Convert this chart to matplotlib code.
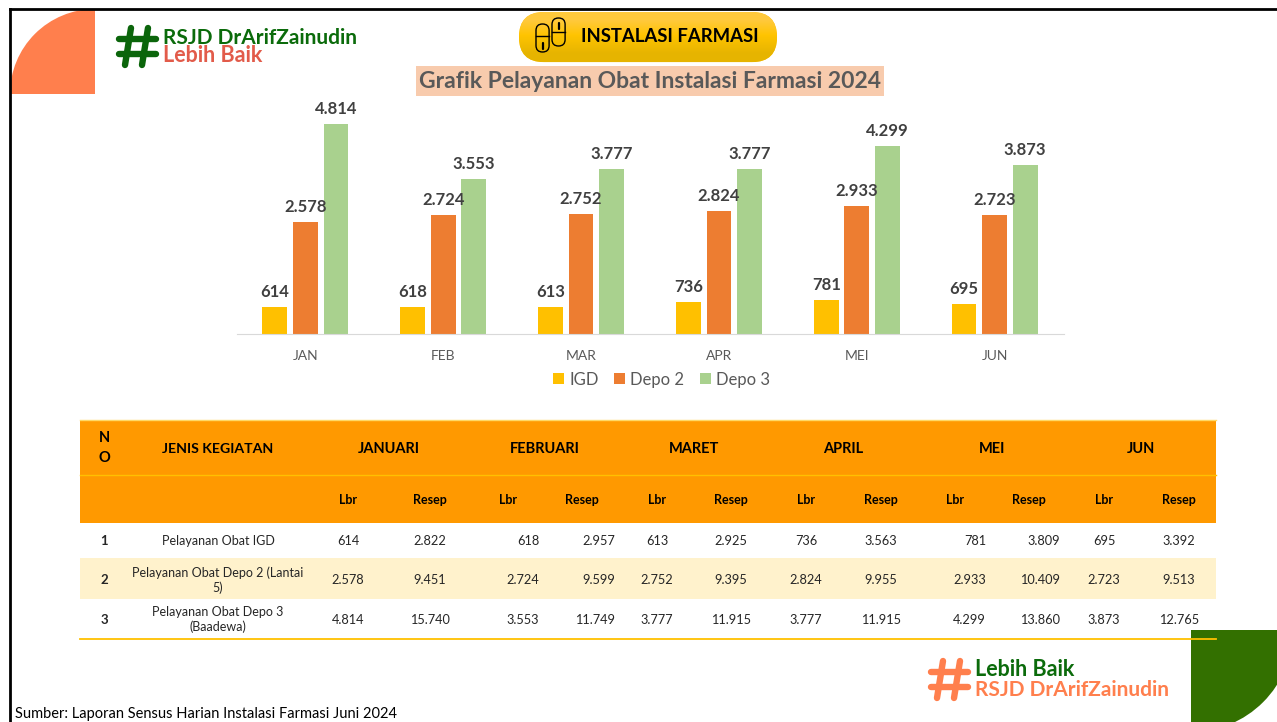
import matplotlib
matplotlib.use('Agg')
import matplotlib.pyplot as plt
import numpy as np
from matplotlib.patches import Circle, FancyBboxPatch, Rectangle

months = ['JAN', 'FEB', 'MAR', 'APR', 'MEI', 'JUN']
igd = [614, 618, 613, 736, 781, 695]
depo2 = [2578, 2724, 2752, 2824, 2933, 2723]
depo3 = [4814, 3553, 3777, 3777, 4299, 3873]

table_months = ['JANUARI', 'FEBRUARI', 'MARET', 'APRIL', 'MEI', 'JUN']
row_names = ['Pelayanan Obat IGD', 'Pelayanan Obat Depo 2 (Lantai\n5)', 'Pelayanan Obat Depo 3\n(Baadewa)']
rows = [
    ['614', '2.822', '618', '2.957', '613', '2.925', '736', '3.563', '781', '3.809', '695', '3.392'],
    ['2.578', '9.451', '2.724', '9.599', '2.752', '9.395', '2.824', '9.955', '2.933', '10.409', '2.723', '9.513'],
    ['4.814', '15.740', '3.553', '11.749', '3.777', '11.915', '3.777', '11.915', '4.299', '13.860', '3.873', '12.765'],
]

plt.rcParams['font.family'] = ['Lato', 'DejaVu Sans']

fig = plt.figure(figsize=(12.77, 7.22), dpi=100)

# page layer, coordinates are pixels
bg = fig.add_axes([0, 0, 1, 1])
bg.set_xlim(0, 1277)
bg.set_ylim(722, 0)
bg.axis('off')


def hash_logo(x, y, color):
    for a, b, c, d in [(14, 2, 8, 39), (31, 2, 25, 39), (2, 13, 39, 13), (2, 28, 39, 28)]:
        bg.plot([x + a, x + c], [y + b, y + d], color=color, lw=4.6, solid_capstyle='round')


# frame
bg.plot([9.5, 9.5], [722, 8.5], color='black', lw=2)
bg.plot([9.5, 1277], [8.5, 8.5], color='black', lw=2)

# corner shapes
orange = Rectangle((11, 9.5), 84, 84.5, fc='#FF7F4D', ec='none')
bg.add_patch(orange)
c1 = Circle((95, 94), 85, fc='#FF7F4D', ec='none')
orange.set_clip_path(c1.get_path(), c1.get_transform() + bg.transData)
green = Rectangle((1191, 630), 86, 92, fc='#337000', ec='none')
bg.add_patch(green)
c2 = Circle((1191, 630), 102, fc='#337000', ec='none')
green.set_clip_path(c2.get_path(), c2.get_transform() + bg.transData)

# logos
hash_logo(117, 26, '#0B650B')
bg.text(163, 37.5, 'RSJD DrArifZainudin', color='#0B6B0B', fontsize=15, fontweight='bold', va='center')
bg.text(163, 56, 'Lebih Baik', color='#E25B4A', fontsize=15.5, fontweight='bold', va='center')
hash_logo(929, 659, '#FF7F4D')
bg.text(975, 669, 'Lebih Baik', color='#0B6B0B', fontsize=15.5, fontweight='bold', va='center')
bg.text(975, 690, 'RSJD DrArifZainudin', color='#FF7F4D', fontsize=15, fontweight='bold', va='center')

# pill header
pill = FancyBboxPatch((544, 37), 208, 0.1, boxstyle='round,pad=25', fc='#FFC000', ec='none')
bg.add_patch(pill)
grad = np.array([[0.0], [0.55], [1.0]])
cmap = matplotlib.colors.LinearSegmentedColormap.from_list('pill', ['#FFC93C', '#FFC400', '#E6B400'])
im = bg.imshow(grad, extent=(519, 777, 62, 12), cmap=cmap, aspect='auto', interpolation='bilinear', zorder=1.5)
im.set_clip_path(pill)
bg.set_xlim(0, 1277)
bg.set_ylim(722, 0)
for cx, cy, div, my in [(536, 24, 12, 19), (552, 18, 14, 5)]:
    b = FancyBboxPatch((cx + 6.5, cy + 6.5), 0.1, 15, boxstyle='round,pad=6.5', fc='none', ec='black', lw=1, zorder=2)
    bg.add_patch(b)
    bg.plot([cx, cx + 13], [cy + div, cy + div], color='black', lw=1, zorder=2)
    bg.plot([cx + 6.5, cx + 6.5], [cy + my, cy + my + 6], color='black', lw=1.6, solid_capstyle='round', zorder=2)
bg.text(670, 37, 'INSTALASI FARMASI', color='black', fontsize=13.3, fontweight='bold', ha='center', va='center', zorder=3)

# title
bg.add_patch(Rectangle((416, 66), 468, 30, fc='#F8CBAD', ec='none'))
bg.text(650, 81, 'Grafik Pelayanan Obat Instalasi Farmasi 2024', color='#595959', fontsize=16.5,
        fontweight='bold', ha='center', va='center')

# table
bg.add_patch(Rectangle((80, 420), 1136, 103, fc='#FF9900', ec='none'))
bg.add_patch(Rectangle((80, 558), 1136, 41, fc='#FFF2CC', ec='none'))
bg.plot([80, 1216], [420, 420], color='#FFD966', lw=1)
bg.plot([80, 1216], [475, 475], color='#FFC000', lw=1)
bg.plot([80, 1216], [638.5, 638.5], color='#FFC000', lw=1.3, zorder=3)

month_x = [389, 545, 694, 843, 992, 1141]
lbr_x = [348, 430, 508, 582, 657, 731, 806, 881, 955, 1029, 1104, 1179]
cell_x = [348, 430, 539, 615, 657, 731, 806, 881, 986, 1060, 1104, 1179]
cell_ha = ['center', 'center', 'right', 'right', 'center', 'center', 'center', 'center',
           'right', 'right', 'center', 'center']
row_y = [541, 580, 619.5]

bg.text(104, 438, 'N', color='black', fontsize=10.5, fontweight='bold', ha='center', va='center')
bg.text(104, 458, 'O', color='black', fontsize=10.5, fontweight='bold', ha='center', va='center')
bg.text(218, 449, 'JENIS KEGIATAN', color='black', fontsize=10.2, fontweight='bold', ha='center', va='center')
for x, m in zip(month_x, table_months):
    bg.text(x, 449, m, color='black', fontsize=10.5, fontweight='bold', ha='center', va='center')
for i, x in enumerate(lbr_x):
    bg.text(x, 500, 'Lbr' if i % 2 == 0 else 'Resep', color='black', fontsize=9, fontweight='bold', ha='center', va='center')
for r, y in enumerate(row_y):
    bg.text(104, y, str(r + 1), color='#262626', fontsize=9.5, fontweight='bold', ha='center', va='center')
    bg.text(218, y, row_names[r], color='#262626', fontsize=9, ha='center', va='center', linespacing=1.2)
    for x, ha, val in zip(cell_x, cell_ha, rows[r]):
        bg.text(x, y, val, color='#262626', fontsize=9.2, ha=ha, va='center')

bg.text(15, 714, 'Sumber: Laporan Sensus Harian Instalasi Farmasi Juni 2024', color='black', fontsize=10.5, va='center')

# bar chart
ax = fig.add_axes([236.5 / 1277, (722 - 334) / 722, 827 / 1277, 234 / 722])
ax.patch.set_alpha(0)
x = np.arange(len(months))
series = [('IGD', igd, '#FFC000', -0.2215), ('Depo 2', depo2, '#ED7D31', 0), ('Depo 3', depo3, '#A9D18E', 0.2215)]
for name, vals, color, off in series:
    bars = ax.bar(x + off, vals, width=0.18, color=color, label=name)
    for b, v in zip(bars, vals):
        ax.annotate(f'{v:,}'.replace(',', '.'), (b.get_x() + b.get_width() / 2, v), xytext=(0, 7),
                    textcoords='offset pixels', ha='center', va='bottom', fontsize=12, fontweight='bold',
                    color='#404040', annotation_clip=False)
ax.set_xlim(-0.5, 5.5)
ax.set_ylim(0, 234 / (210 / 4814))
ax.set_xticks(x, months)
ax.set_yticks([])
ax.tick_params(axis='x', length=0, pad=11.5, labelsize=10, labelcolor='#595959')
for s in ['top', 'left', 'right']:
    ax.spines[s].set_visible(False)
ax.spines['bottom'].set_color('#D9D9D9')
leg = ax.legend(loc='center', bbox_to_anchor=(0.514, -0.195), ncol=3, frameon=False, fontsize=12, labelcolor='#595959',
                handlelength=0.66, handleheight=0.66, handletextpad=0.3, columnspacing=0.95)

fig.savefig('out.png', dpi=100)
